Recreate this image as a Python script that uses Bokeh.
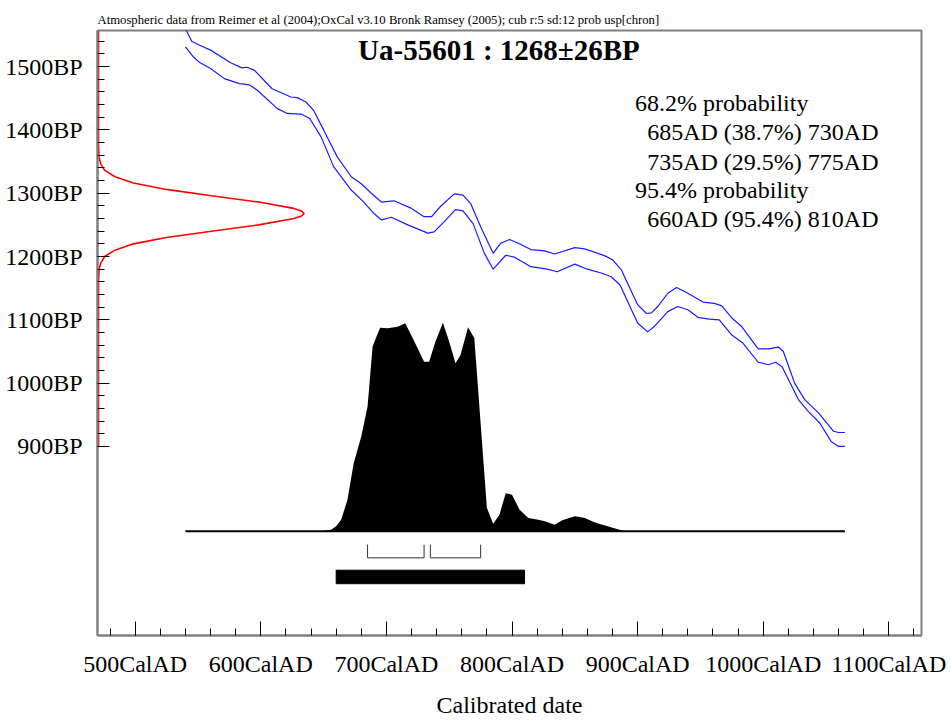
from bokeh.plotting import figure
from bokeh.models import Range1d, FixedTicker, PrintfTickFormatter, Label
from bokeh.embed import file_html
from bokeh.resources import INLINE

# ---------------- data ----------------
# calibration curve, upper (+1 sigma) and lower (-1 sigma) envelopes (cal AD, BP)
cal_upper_year = [540, 545, 550, 560, 576, 585, 589, 595, 609, 624, 629, 636, 642, 650, 661, 672,
                  680, 688, 696, 706, 720, 730, 736, 743, 754, 761, 767, 775, 785, 791, 798, 805,
                  815, 826, 834, 850, 858, 874, 880, 887, 900, 907, 911, 916, 924, 931, 940, 952,
                  961, 967, 975, 983, 996, 1004, 1012, 1016, 1025, 1033, 1044, 1056, 1060, 1065]
cal_upper_bp = [1560, 1540, 1535, 1526, 1506, 1498, 1499, 1494, 1465, 1452, 1451, 1444, 1431, 1400,
                1357, 1326, 1315, 1300, 1286, 1288, 1276, 1263, 1263, 1279, 1299, 1297, 1284, 1247,
                1205, 1221, 1227, 1221, 1211, 1209, 1204, 1214, 1212, 1201, 1195, 1179, 1124, 1110,
                1111, 1121, 1142, 1151, 1142, 1128, 1126, 1122, 1103, 1089, 1054, 1054, 1057, 1050,
                1000, 974, 953, 924, 922, 922]
cal_lower_year = [540, 546, 551, 560, 571, 583, 591, 597, 613, 621, 632, 639, 648, 658, 672, 682,
                  690, 696, 704, 717, 733, 738, 746, 755, 761, 769, 778, 785, 795, 802, 815, 828,
                  836, 850, 860, 871, 879, 886, 900, 908, 913, 924, 932, 940, 948, 957, 965, 975,
                  984, 996, 1004, 1010, 1015, 1028, 1036, 1045, 1054, 1060, 1065]
cal_lower_bp = [1531, 1516, 1507, 1497, 1481, 1473, 1471, 1463, 1434, 1426, 1425, 1418, 1389, 1342,
                1305, 1286, 1268, 1258, 1262, 1250, 1237, 1239, 1255, 1274, 1272, 1252, 1205, 1180,
                1202, 1199, 1184, 1180, 1176, 1188, 1180, 1174, 1168, 1155, 1095, 1081, 1089, 1113,
                1121, 1116, 1104, 1101, 1100, 1076, 1063, 1033, 1029, 1033, 1026, 974, 955, 937,
                908, 900, 900]

# calibrated probability distribution (relative)
prob_year = [540, 648, 656, 660, 664, 669, 674, 680, 685, 689, 690, 695, 701, 709, 715, 721, 730,
             734, 739, 745, 750, 755, 759, 765, 770, 780, 785, 790, 795, 800, 806, 813, 821, 826,
             834, 840, 850, 858, 866, 876, 887, 890, 1065]
prob_val = [0, 0, 0.008, 0.024, 0.056, 0.152, 0.327, 0.455, 0.598, 0.885, 0.901, 0.976, 0.973,
            0.981, 0.997, 0.925, 0.813, 0.813, 0.909, 1.0, 0.909, 0.805, 0.845, 0.978, 0.925,
            0.112, 0.037, 0.08, 0.183, 0.175, 0.104, 0.064, 0.056, 0.048, 0.032, 0.053, 0.072,
            0.064, 0.043, 0.024, 0.005, 0, 0]

# radiocarbon date distribution 1268 +/- 26 BP (relative)
red_bp = [900, 1160, 1170, 1180, 1190, 1200, 1210, 1220, 1230, 1240, 1250, 1260, 1264, 1268, 1272,
          1276, 1286, 1296, 1306, 1316, 1326, 1336, 1346, 1356, 1366, 1376, 1557]
red_dens = [0, 0, 0.001, 0.003, 0.011, 0.03, 0.08, 0.17, 0.33, 0.55, 0.78, 0.95, 0.988, 1.0, 0.988,
            0.95, 0.78, 0.55, 0.33, 0.17, 0.08, 0.03, 0.011, 0.003, 0.001, 0, 0]

# ranges
range68_start = [685, 735]
range68_end = [730, 775]
range95_start = [660]
range95_end = [810]

x_major = [500, 600, 700, 800, 900, 1000, 1100]
x_minor = list(range(480, 1121, 20))
y_major = [900, 1000, 1100, 1200, 1300, 1400, 1500]
y_minor = list(range(900, 1541, 20))

header = ("Atmospheric data from Reimer et al (2004);OxCal v3.10 Bronk Ramsey (2005); "
          "cub r:5 sd:12 prob usp[chron]")
title = "Ua-55601 : 1268\u00b126BP"
info_lines = ["68.2% probability", "685AD (38.7%) 730AD", "735AD (29.5%) 775AD",
              "95.4% probability", "660AD (95.4%) 810AD"]
info_indent = [False, True, True, False, True]

FONT = "Liberation Serif"

# ---------------- figure ----------------
p = figure(width=951, height=720, output_backend="svg", toolbar_location=None,
           x_range=Range1d(470, 1126), y_range=Range1d(601.4, 1557),
           min_border_left=97, min_border_right=30, min_border_top=30, min_border_bottom=84)
p.extra_x_ranges = {"red": Range1d(-0.005, 4.004)}
p.extra_y_ranges = {"prob": Range1d(-0.499, 2.400)}
p.xgrid.visible = False
p.ygrid.visible = False
p.outline_line_color = "#808080"
p.outline_line_width = 2
p.background_fill_color = "white"
p.border_fill_color = "white"

p.title.text = header
p.title.align = "left"
p.title.offset = 0
p.title.standoff = 8
p.title.text_font = FONT
p.title.text_font_size = "12.7px"
p.title.text_font_style = "normal"
p.title.text_color = "black"

for ax in (p.xaxis[0], p.yaxis[0]):
    ax.axis_line_color = "#808080"
    ax.axis_line_width = 2
    ax.major_tick_out = 0
    ax.minor_tick_out = 0
    ax.major_tick_line_color = "black"
    ax.minor_tick_line_color = "black"
    ax.major_label_text_font = FONT
    ax.major_label_text_font_size = "24px"
    ax.major_label_text_color = "black"

p.xaxis.ticker = FixedTicker(ticks=x_major, minor_ticks=x_minor)
p.xaxis.formatter = PrintfTickFormatter(format="%dCalAD")
p.xaxis.major_tick_in = 14
p.xaxis.minor_tick_in = 7
p.xaxis.major_label_standoff = 15
p.xaxis.axis_label = "Calibrated date"
p.xaxis.axis_label_text_font = FONT
p.xaxis.axis_label_text_font_size = "24px"
p.xaxis.axis_label_text_font_style = "normal"
p.xaxis.axis_label_text_color = "black"
p.xaxis.axis_label_standoff = 12

p.yaxis.ticker = FixedTicker(ticks=y_major, minor_ticks=y_minor)
p.yaxis.formatter = PrintfTickFormatter(format="%dBP")
p.yaxis.major_tick_in = 12
p.yaxis.minor_tick_in = 7
p.yaxis.major_label_standoff = 15

# calibration curve
p.line(cal_upper_year, cal_upper_bp, line_color="#1a1aff", line_width=1.2)
p.line(cal_lower_year, cal_lower_bp, line_color="#1a1aff", line_width=1.2)

# radiocarbon distribution in red along the y axis
p.line(red_dens, red_bp, x_range_name="red", line_color="red", line_width=1.6)

# calibrated distribution
p.varea(x=prob_year, y1=[0] * len(prob_year), y2=prob_val, y_range_name="prob",
        fill_color="black")
p.line(prob_year, [0] * len(prob_year), y_range_name="prob", line_color="black", line_width=2)

# 68.2% brackets
xs = [[s, s, e, e] for s, e in zip(range68_start, range68_end)]
ys = [[-0.064, -0.127, -0.127, -0.064] for _ in range68_start]
p.multi_line(xs, ys, y_range_name="prob", line_color="#333333", line_width=1)

# 95.4% bar
p.quad(left=range95_start, right=range95_end, bottom=[-0.251], top=[-0.186],
       y_range_name="prob", fill_color="black", line_color="black")

# texts
p.add_layout(Label(x=789.6, y=1526, text=title, text_font=FONT, text_font_size="29px",
                   text_font_style="bold", text_color="black", text_align="center",
                   text_baseline="alphabetic"))
info_y = [1442, 1396, 1350, 1305, 1259]
for line, ind, yy in zip(info_lines, info_indent, info_y):
    p.add_layout(Label(x=907.6 if ind else 898.0, y=yy, text=line, text_font=FONT,
                       text_font_size="24px", text_color="black", text_align="left",
                       text_baseline="alphabetic"))

open("out.html", "w").write(file_html(p, INLINE))
